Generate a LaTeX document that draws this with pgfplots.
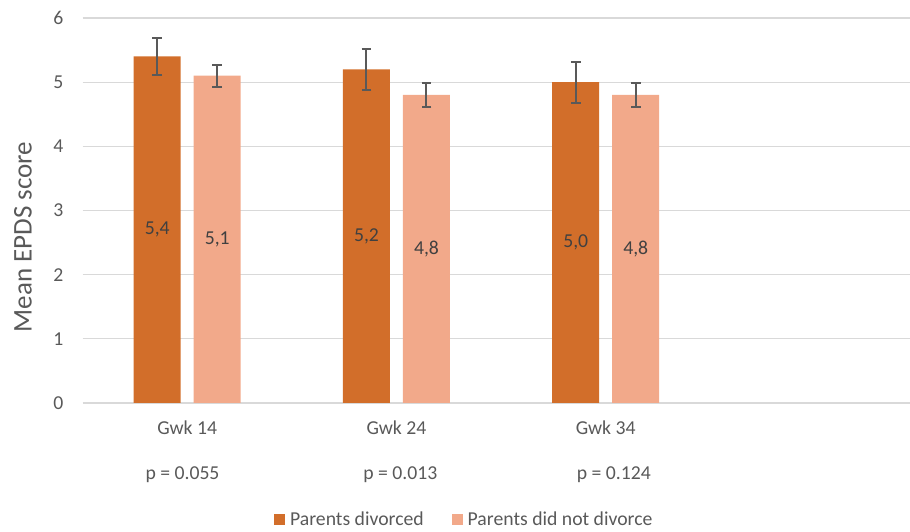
\documentclass[border=0pt]{standalone}
\usepackage{fontspec}
\setmainfont{Carlito}
\usepackage{pgfplots}
\usepackage{pgfplotstable}
\pgfplotsset{compat=1.18}

\definecolor{divorced}{HTML}{D26E2A}
\definecolor{notdiv}{HTML}{F2A98A}
\definecolor{txt}{HTML}{595959}
\definecolor{lbl}{HTML}{404040}
\definecolor{gridc}{HTML}{D9D9D9}
\newcommand\fs{\fontsize{19.7}{23.6}\selectfont}

% mean EPDS score and error (half range)
\pgfplotstableread{
x div derr nodiv nerr
0 5.4 0.29 5.1 0.17
1 5.2 0.32 4.8 0.19
2 5.0 0.32 4.8 0.19
}\epds

\begin{document}
\begin{tikzpicture}
\useasboundingbox (0,0) rectangle (910pt,532pt);
\begin{axis}[
  at={(82.6pt,129pt)}, anchor=south west,
  scale only axis, width=827.4pt, height=385pt,
  ybar, bar width=47pt,
  xmin=-0.5, xmax=3.454, ymin=0, ymax=6,
  ytick={0,...,6}, xtick={0,1,2},
  xticklabels={Gwk 14, Gwk 24, Gwk 34},
  axis line style={draw=none},
  major tick length=0pt,
  ymajorgrids, grid style={gridc, line width=1.2pt},
  /pgf/number format/assume math mode=true,
  tick label style={text=txt, inner sep=0pt, font=\fs},
  yticklabel style={xshift=-19pt},
  xticklabel style={yshift=-18pt},
  ylabel={Mean EPDS score},
  every axis y label/.style={at={(axis description cs:-0.072,0.431)}, rotate=90, anchor=center, font=\fontsize{27}{32}\selectfont, text=txt},
  legend style={at={(0.4613,-0.3026)}, anchor=center, draw=none, fill=none,
    font=\fs, text=txt, legend columns=-1,
    /tikz/every odd column/.append style={column sep=3pt},
    /tikz/every even column/.append style={column sep=26pt}},
  legend image code/.code={\fill[#1] (0pt,-5.5pt) rectangle (11pt,5.5pt);},
  clip=false,
]
\addplot[bar shift=-30pt, fill=divorced, draw=none,
  error bars/.cd, y dir=both, y explicit,
  error bar style={draw=txt, line width=2pt},
  error mark options={rotate=90, draw=txt, line width=2pt, mark size=4.8pt}]
  table[x=x, y=div, y error=derr] {\epds};
\addlegendentry{Parents divorced}
\addplot[bar shift=30pt, fill=notdiv, draw=none,
  error bars/.cd, y dir=both, y explicit,
  error bar style={draw=txt, line width=2pt},
  error mark options={rotate=90, draw=txt, line width=2pt, mark size=4.8pt}]
  table[x=x, y=nodiv, y error=nerr] {\epds};
\addlegendentry{Parents did not divorce}

% value labels in the middle of the bars
\addplot[bar shift=-30pt, draw=none, fill=none, forget plot,
  point meta=explicit,
  nodes near coords={\pgfmathprintnumber[fixed, fixed zerofill, precision=1, use comma]{\pgfplotspointmeta}},
  nodes near coords align={center},
  every node near coord/.append style={anchor=center, font=\fs, text=lbl}]
  table[x=x, y expr=\thisrow{div}/2, meta=div] {\epds};
\addplot[bar shift=30pt, draw=none, fill=none, forget plot,
  point meta=explicit,
  nodes near coords={\pgfmathprintnumber[fixed, fixed zerofill, precision=1, use comma]{\pgfplotspointmeta}},
  nodes near coords align={center},
  every node near coord/.append style={anchor=center, font=\fs, text=lbl}]
  table[x=x, y expr=\thisrow{nodiv}/2, meta=nodiv] {\epds};

\node[anchor=base, font=\fs, text=txt, yshift=-76.3pt] at (axis cs:-0.0226,0) {p = 0.055};
\node[anchor=base, font=\fs, text=txt, yshift=-76.3pt] at (axis cs:1.0183,0) {p = 0.013};
\node[anchor=base, font=\fs, text=txt, yshift=-76.3pt] at (axis cs:2.0386,0) {p = 0.124};
\end{axis}
\end{tikzpicture}
\end{document}
